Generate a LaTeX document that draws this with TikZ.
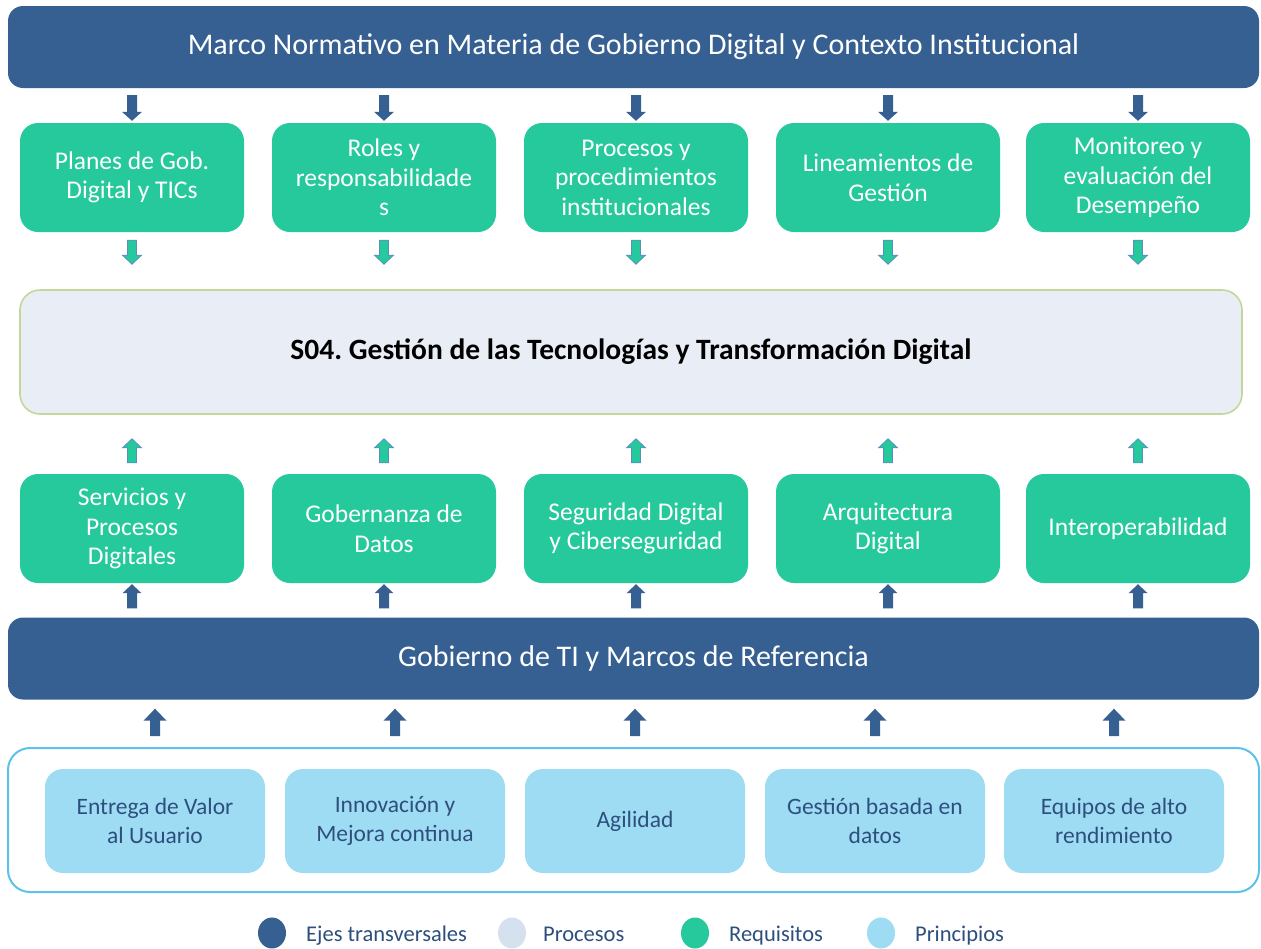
\documentclass[tikz,border=0pt]{standalone}
\usepackage{fontspec}
\setmainfont{Carlito}
\usetikzlibrary{calc,shapes.geometric}
\frenchspacing
\definecolor{dblue}{HTML}{376092}
\definecolor{reqgreen}{HTML}{26C99C}
\definecolor{procfill}{HTML}{E9EEF6}
\definecolor{procborder}{HTML}{C4D79B}
\definecolor{prinfill}{HTML}{9DDCF3}
\definecolor{prinborder}{HTML}{5BC2EC}
\definecolor{printext}{HTML}{2E4F7E}
\definecolor{legproc}{HTML}{D6E1EF}
\definecolor{garrowline}{HTML}{5B8DC4}
\newcommand\blockarr[6][]{%
  \path[#1] ($(#2)+(-#4,0)$) -- ($(#2)+(#4,0)$) -- ($(#3)+(#4,#6)$) -- ($(#3)+(#5,#6)$) -- (#3) -- ($(#3)+(-#5,#6)$) -- ($(#3)+(-#4,#6)$) -- cycle;}
\tikzset{
  bar/.style={fill=dblue, draw=none, rounded corners=15pt, minimum width=1251, minimum height=82, text=white, font=\fontsize{30pt}{34pt}\selectfont, inner sep=0pt},
  req/.style={fill=reqgreen, draw=none, rounded corners=18pt, minimum width=224, minimum height=109, text=white, align=center, font=\fontsize{25.5pt}{29.5pt}\selectfont, inner sep=0pt},
  proc/.style={fill=procfill, draw=procborder, line width=1.6pt, rounded corners=20pt, minimum width=1222, minimum height=124, text=black, font=\bfseries\fontsize{29.5pt}{34pt}\selectfont, inner sep=0pt},
  outer/.style={fill=white, draw=prinborder, line width=2pt, rounded corners=22pt, minimum width=1251, minimum height=144, inner sep=0pt},
  prin/.style={fill=prinfill, draw=none, rounded corners=18pt, minimum width=220, minimum height=104, text=printext, align=center, font=\fontsize{23.5pt}{29.5pt}\selectfont, inner sep=0pt},
  darr/.style={fill=dblue, draw=none},
  garr/.style={fill=reqgreen, draw=garrowline, line width=0.8pt},
  legdot/.style={ellipse, minimum width=28, minimum height=31, inner sep=0pt, draw=none},
  legtxt/.style={anchor=base west, text=printext, font=\fontsize{22.5pt}{26pt}\selectfont, inner sep=0pt},
}
\begin{document}
\begin{tikzpicture}[x=1pt,y=-1pt]
\useasboundingbox[fill=white] (0,0) rectangle (1261,948);
% top bar
\node[bar] (T) at (633.5,47) {Marco Normativo en Materia de Gobierno Digital y Contexto Institucional};
% top requirement boxes
\node[req] (r1) at (132,177.5) {Planes de Gob.\\Digital y TICs};
\node[req] (r2) at (384,177.5) {Roles y\\responsabilidade\\s};
\node[req] (r3) at (636,177.5) {Procesos y\\procedimientos\\institucionales};
\node[req] (r4) at (888,177.5) {Lineamientos de\\Gestión};
\node[req] (r5) at (1138,177.5) {Monitoreo y\\evaluación del\\Desempeño};
% process box
\node[proc] (S) at (631,352) {S04. Gestión de las Tecnologías y Transformación Digital};
% bottom requirement boxes
\node[req] (q1) at (132,528.5) {Servicios y\\Procesos\\Digitales};
\node[req] (q2) at (384,528.5) {Gobernanza de\\Datos};
\node[req] (q3) at (636,528.5) {Seguridad Digital\\y Ciberseguridad};
\node[req] (q4) at (888,528.5) {Arquitectura\\Digital};
\node[req] (q5) at (1138,528.5) {Interoperabilidad};
% second bar
\node[bar] (G) at (633.5,658.5) {Gobierno de TI y Marcos de Referencia};
% principles
\node[outer] (O) at (633.5,820) {};
\node[prin] (p1) at (155,821) {Entrega de Valor\\al Usuario};
\node[prin] (p2) at (395,821) {Innovación y\\Mejora continua};
\node[prin] (p3) at (635,821) {Agilidad};
\node[prin] (p4) at (875,821) {Gestión basada en\\datos};
\node[prin] (p5) at (1114,821) {Equipos de alto\\rendimiento};
% arrows
\foreach \i in {1,...,5}{
  \coordinate (ta\i) at (T.south -| r\i.north);
  \coordinate (sa\i) at (S.north -| r\i.south);
  \coordinate (sb\i) at (S.south -| q\i.north);
  \coordinate (ga\i) at (G.north -| q\i.south);
  \coordinate (gb\i) at (G.south -| p\i.north);
  \coordinate (oa\i) at (O.north -| p\i.north);
  \blockarr[darr]{$(ta\i)+(0,7)$}{$(r\i.north)+(0,-2)$}{5}{10}{-9}
  \blockarr[garr]{$(r\i.south)+(0,8)$}{$(sa\i)+(0,-25)$}{4.5}{9.5}{-9}
  \blockarr[garr]{$(q\i.north)+(0,-11)$}{$(sb\i)+(0,24)$}{4.5}{9.5}{9}
  \blockarr[darr]{$(ga\i)+(0,-9)$}{$(q\i.south)+(0,1)$}{5}{9.5}{9}
  \blockarr[darr]{$(oa\i)+(0,-11)$}{$(gb\i)+(0,9)$}{5}{11.5}{12}
}
% legend
\node[legdot, fill=dblue] (l1) at (272,933) {};
\node[legtxt] (t1) at (306,941) {Ejes transversales};
\node[legdot, fill=legproc] (l2) at (512,933) {};
\node[legtxt] (t2) at (543,941) {Procesos};
\node[legdot, fill=reqgreen] (l3) at (695,933) {};
\node[legtxt] (t3) at (729,941) {Requisitos};
\node[legdot, fill=prinfill] (l4) at (881,933) {};
\node[legtxt] (t4) at (915,941) {Principios};
\end{tikzpicture}
\end{document}
